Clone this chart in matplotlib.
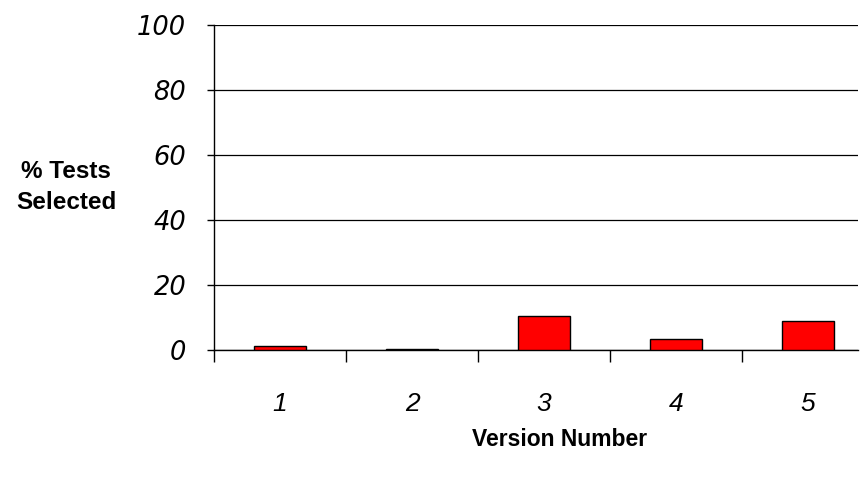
import matplotlib
matplotlib.use("Agg")
import matplotlib.pyplot as plt
from matplotlib.ticker import FixedLocator, NullFormatter

versions = ["1", "2", "3", "4", "5"]
pct_selected = [1.2, 0.4, 10.6, 3.5, 8.8]
y_ticks = [0, 20, 40, 60, 80, 100]

fig = plt.figure(figsize=(8.65, 4.79), dpi=100)
ax = fig.add_axes([214/865, 1-350/479, 644/865, 325/479])

x = list(range(1, len(versions)+1))
ax.bar(x, pct_selected, width=0.4, color="#FF0000", edgecolor="black", linewidth=1.0, zorder=3)

ax.set_xlim(0.5, 0.5 + 644/132)
ax.set_ylim(0, 100)

ax.set_yticks(y_ticks)
ax.set_yticklabels([str(v) for v in y_ticks], fontsize=18.5, style="italic", family="DejaVu Sans")
ax.yaxis.grid(True, color="black", linewidth=0.9)
ax.set_axisbelow(True)

# x tick marks at category boundaries, labels at centers
ax.xaxis.set_major_locator(FixedLocator([i + 0.5 for i in range(0, len(versions)+1)]))
ax.xaxis.set_major_formatter(NullFormatter())
ax.xaxis.set_minor_locator(FixedLocator(x))
ax.set_xticklabels(versions, minor=True, fontsize=19, style="italic", family="Liberation Sans")
ax.tick_params(axis="x", which="major", length=8.5, width=1, direction="out")
ax.tick_params(axis="x", which="minor", length=0, pad=30)
ax.tick_params(axis="y", length=5, width=1, pad=15)

for s in ["top", "right"]:
    ax.spines[s].set_visible(False)
for s in ["left", "bottom"]:
    ax.spines[s].set_linewidth(1.0)

fig.text(66/865, 1-187/479, "% Tests\nSelected", ha="center", va="center",
         fontsize=17.5, fontweight="bold", family="Liberation Sans", linespacing=1.45)
fig.text(560/865, 1-439/479, "Version Number", ha="center", va="center",
         fontsize=16.5, fontweight="bold", family="Liberation Sans")

fig.savefig("out.png", dpi=100)
